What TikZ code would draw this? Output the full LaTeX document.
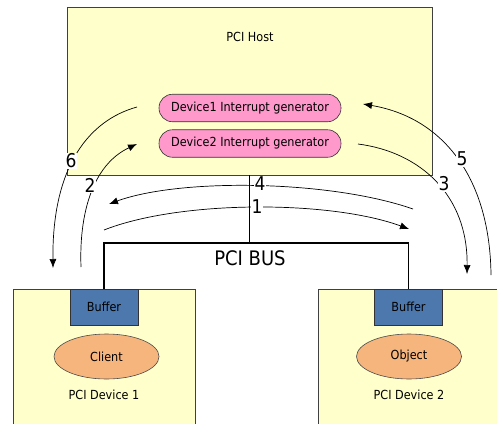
\documentclass[tikz,border=0pt]{standalone}
\usepackage{fontspec}
\setmainfont{DejaVu Sans Condensed}
\usetikzlibrary{arrows.meta,shapes.geometric}
\definecolor{boxfill}{HTML}{FFFFCC}
\definecolor{pillfill}{HTML}{FF99CC}
\definecolor{buffill}{HTML}{4C78AE}
\definecolor{ovalfill}{HTML}{F7B57E}
\tikzset{
  txt/.style={font=\fontsize{12.5}{14}\selectfont},
  unit/.style={draw=black!75, line width=0.6pt, fill=boxfill, inner sep=0pt},
  pill/.style={txt, draw=black!80, line width=0.6pt, fill=pillfill, rounded corners=13.5pt,
    minimum width=182pt, minimum height=27.5pt, inner sep=0pt},
  bufbox/.style={txt, draw=black!80, line width=0.6pt, fill=buffill, minimum width=68pt,
    minimum height=36pt, inner sep=0pt},
  oval/.style={txt, ellipse, draw=black!70, line width=0.6pt, fill=ovalfill, minimum width=105pt,
    minimum height=45pt, inner sep=0pt},
  caption/.style={txt, inner sep=0pt},
  bus/.style={line width=1.5pt},
  flow/.style={line width=0.7pt, -{Latex[length=9pt,width=7pt]}},
  stepnum/.style={fill=white, inner sep=0.5pt, font=\fontsize{19}{21}\selectfont}
}
\begin{document}
\begin{tikzpicture}[x=1pt,y=-1pt]
\useasboundingbox (0,0) rectangle (497,423);

% host and devices
\node[unit, minimum width=365pt, minimum height=168pt] (host) at (249.5,91) {};
\node[caption] (hostlbl) at (250,37) {PCI Host};
\node[pill] (gen1) at (250,108) {Device1 Interrupt generator};
\node[pill] (gen2) at (250,143.5) {Device2 Interrupt generator};

\node[unit, minimum width=182pt, minimum height=137pt] (dev1) at (104,357.5) {};
\node[unit, minimum width=181pt, minimum height=137pt] (dev2) at (408.5,357.5) {};
\node[bufbox] (buf1) at (104,307) {Buffer};
\node[bufbox] (buf2) at (408.5,307) {Buffer};
\node[oval] (client) at (106.5,356.5) {Client};
\node[oval] (object) at (409,356.5) {Object};
\node[caption] (dev1lbl) at (104,395) {PCI Device 1};
\node[caption] (dev2lbl) at (409,395) {PCI Device 2};

% bus
\coordinate (busmid) at (249.5,243);
\coordinate (busL) at (104,243);
\coordinate (busR) at (408.5,243);
\draw[bus] (host.south) -- (busmid);
\draw[bus] (buf1.north) -- (busL) -- (busR) -- (buf2.north);
\node[font=\fontsize{20}{22}\selectfont, inner sep=0pt] (buslbl) at (250,258) {PCI BUS};

% interrupt and data flows
\coordinate (a6s) at (137,107);  \coordinate (a6e) at (53,268);
\coordinate (a2s) at (81,267);   \coordinate (a2e) at (137,144);
\coordinate (a4s) at (413,209);  \coordinate (a4e) at (109,204);
\coordinate (a1s) at (104,230);  \coordinate (a1e) at (409,229);
\coordinate (a3s) at (358,144);  \coordinate (a3e) at (467,274);
\coordinate (a5s) at (491,275);  \coordinate (a5e) at (363,104);

\draw[flow] (a6s) .. controls (90,120) and (52,165) .. (a6e);
\draw[flow] (a2s) .. controls (79,215) and (92,165) .. (a2e);
\draw[flow] (a4s) .. controls (330,180) and (180,178) .. (a4e);
\draw[flow] (a1s) .. controls (180,200) and (330,200) .. (a1e);
\draw[flow] (a3s) .. controls (420,152) and (468,195) .. (a3e);
\draw[flow] (a5s) .. controls (490,180) and (445,118) .. (a5e);

\node[stepnum] (n6) at (71,161) {6};
\node[stepnum] (n2) at (90,185) {2};
\node[stepnum] (n4) at (260,184) {4};
\node[stepnum] (n1) at (257,207) {1};
\node[stepnum] (n3) at (444,184) {3};
\node[stepnum] (n5) at (462,159) {5};
\end{tikzpicture}
\end{document}
